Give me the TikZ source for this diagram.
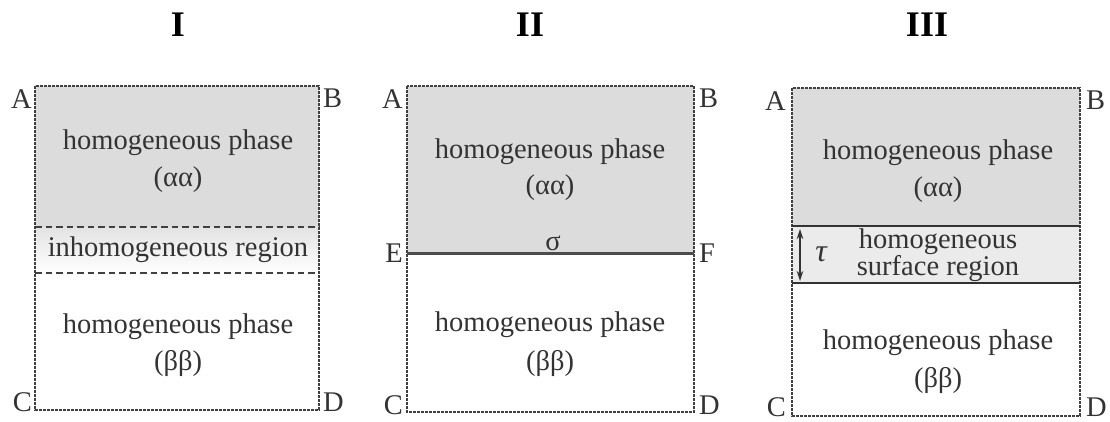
\documentclass[tikz,border=0pt]{standalone}
\usepackage{fontspec}
\setmainfont{Liberation Serif}
\usetikzlibrary{arrows.meta}
\definecolor{fillA}{HTML}{DCDCDC}
\definecolor{fillS}{HTML}{EBEBEB}
\definecolor{ink}{HTML}{333333}
\begin{document}
\begin{tikzpicture}[x=1pt,y=-1pt,
  txt/.style={text=ink, font=\fontsize{28.5}{30}\selectfont, inner sep=0pt},
  lbl/.style={text=ink, font=\fontsize{28.5}{30}\selectfont, inner sep=0pt},
  ttl/.style={text=black, font=\fontsize{36}{40}\selectfont\bfseries, inner sep=0pt},
  border/.style={draw=black!75, line width=1.7pt, dash pattern=on 2.6pt off 1.4pt},
  inner dash/.style={draw=black!75, line width=1.7pt, dash pattern=on 6.5pt off 4pt},
  iface/.style={draw=black!70, line width=3pt},
  iface3/.style={draw=black!80, line width=2.4pt},
  dimarrow/.style={draw=ink, line width=1.3pt, >={Stealth[length=10pt,width=6.5pt]}, <->},
  ]
\useasboundingbox (0,0) rectangle (1110,421);
% ---------------- Titles
\node[ttl] (t1) at (178,25) {I};
\node[ttl] (t2) at (530,25) {II};
\node[ttl] (t3) at (927,25) {III};

% ---------------- Panel I
\coordinate (IA) at (35,86);
\coordinate (IB) at (319,86);
\coordinate (IC) at (35,410);
\coordinate (ID) at (319,410);
\coordinate (Iu) at (35,227);
\coordinate (Iv) at (319,227);
\coordinate (Iw) at (35,273);
\coordinate (Ix) at (319,273);
\fill[fillA] (IA) rectangle (Iv);
\shade[top color=fillA!80, bottom color=white] (Iu) rectangle (Ix);
\draw[inner dash] (Iu) -- (Iv);
\draw[inner dash] (Iw) -- (Ix);
\draw[border] (IA) rectangle (ID);
\node[lbl, anchor=north east] (lA1) at (32,89) {A};
\node[lbl, anchor=north west] (lB1) at (323,89) {B};
\node[lbl, anchor=base east] (lC1) at (32,411) {C};
\node[lbl, anchor=base west] (lD1) at (323,411) {D};
\node[txt] (a1) at (178,143) {homogeneous phase};
\node[txt] (a1b) at (178,180) {(αα)};
\node[txt] (m1) at (178,250) {inhomogeneous region};
\node[txt] (b1) at (178,327) {homogeneous phase};
\node[txt] (b1b) at (178,363) {(ββ)};

% ---------------- Panel II
\coordinate (IIA) at (407,86);
\coordinate (IIB) at (694,86);
\coordinate (IIC) at (407,412);
\coordinate (IID) at (694,412);
\coordinate (IIE) at (407,253);
\coordinate (IIF) at (694,253);
\fill[fillA] (IIA) rectangle (IIF);
\draw[border] (IIA) rectangle (IID);
\draw[iface] (IIE) -- (IIF);
\node[lbl, anchor=north east] (lA2) at (403,89) {A};
\node[lbl, anchor=north west] (lB2) at (699,89) {B};
\node[lbl, anchor=base east] (lE2) at (403,262) {E};
\node[lbl, anchor=base west] (lF2) at (699,262) {F};
\node[lbl, anchor=base east] (lC2) at (403,414) {C};
\node[lbl, anchor=base west] (lD2) at (699,414) {D};
\node[txt] (a2) at (550,152) {homogeneous phase};
\node[txt] (a2b) at (550,188) {(αα)};
\node[txt, anchor=base] (s2) at (553,250) {σ};
\node[txt] (b2) at (550,325) {homogeneous phase};
\node[txt] (b2b) at (550,363) {(ββ)};

% ---------------- Panel III
\coordinate (IIIA) at (792,88);
\coordinate (IIIB) at (1080,88);
\coordinate (IIIC) at (792,416);
\coordinate (IIID) at (1080,416);
\coordinate (IIIu) at (792,226);
\coordinate (IIIv) at (1080,226);
\coordinate (IIIw) at (792,283);
\coordinate (IIIx) at (1080,283);
\fill[fillA] (IIIA) rectangle (IIIv);
\fill[fillS] (IIIu) rectangle (IIIx);
\draw[border] (IIIA) rectangle (IIID);
\draw[iface3] (IIIu) -- (IIIv);
\draw[iface3] (IIIw) -- (IIIx);
\coordinate (tauT) at (800,229);
\coordinate (tauB) at (800,281);
\draw[dimarrow] (tauT) -- (tauB);
\node[txt, font=\fontsize{32}{34}\selectfont\itshape] (tau) at (821,254) {τ};
\node[lbl, anchor=north east] (lA3) at (786,91) {A};
\node[lbl, anchor=north west] (lB3) at (1086,91) {B};
\node[lbl, anchor=base east] (lC3) at (786,416) {C};
\node[lbl, anchor=base west] (lD3) at (1086,416) {D};
\node[txt, align=center, font=\fontsize{28.5}{24}\selectfont] (m3) at (938,255) {homogeneous\\surface region};
\node[txt] (a3) at (938,153) {homogeneous phase};
\node[txt] (a3b) at (938,190) {(αα)};
\node[txt] (b3) at (938,343) {homogeneous phase};
\node[txt] (b3b) at (938,380) {(ββ)};
\end{tikzpicture}
\end{document}
